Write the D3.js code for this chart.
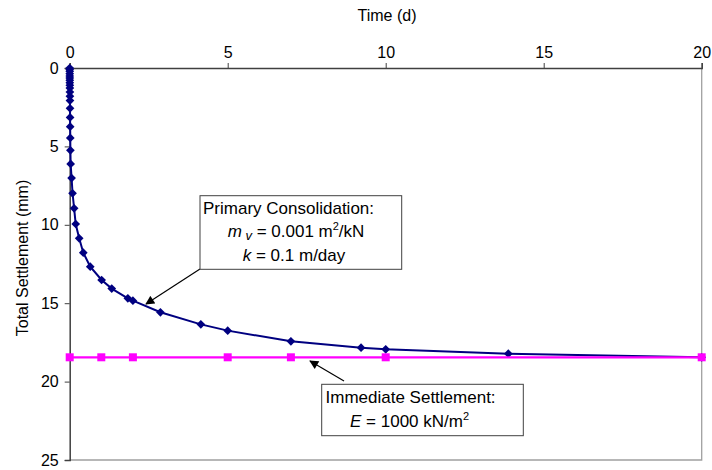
<html>
<head>
<meta charset="utf-8" />
<script src="https://d3js.org/d3.v7.min.js"></script>
<style>
  body { margin: 0; background: #fff; }
  text { font-family: "Liberation Sans", Arial, sans-serif; fill: #000; }
</style>
</head>
<body>
<svg id="chart" width="712" height="470"></svg>
<script>
// primary consolidation curve (time in days, settlement in mm)
let primaryTime = [0, 0.0003, 0.0006, 0.001, 0.0015, 0.002, 0.0025, 0.003, 0.004, 0.005,
  0.006, 0.007, 0.008, 0.01, 0.012, 0.015, 0.018, 0.022,
  0.03, 0.06, 0.09, 0.14, 0.19, 0.30, 0.43, 0.65, 1.01, 1.33, 1.84, 2.0,
  2.87, 4.15, 5.0, 7.0, 9.22, 10.0, 13.88, 20]
let primarySettlement = [0, 0.1, 0.21, 0.36, 0.51, 0.64, 0.78, 0.94, 1.10, 1.28,
  1.53, 1.80, 2.08, 2.57, 3.15, 3.74, 4.46, 5.25,
  6.12, 7.02, 7.99, 8.95, 9.95, 10.86, 11.78, 12.67, 13.52, 14.07, 14.69, 14.84,
  15.58, 16.35, 16.75, 17.43, 17.84, 17.94, 18.22, 18.45]
// immediate settlement
let immediateTime = [0, 1, 2, 5, 7, 10, 20]
let immediateSettlement = [18.45, 18.45, 18.45, 18.45, 18.45, 18.45, 18.45]

let xTicks = [0, 5, 10, 15, 20]
let yTicks = [0, 5, 10, 15, 20, 25]

let svg = d3.select("#chart")
let x = d3.scaleLinear().domain([0, 20]).range([69.7, 701.7])
let y = d3.scaleLinear().domain([0, 25]).range([68, 460])

// plot area border (right & bottom, light gray)
svg.append("path")
  .attr("d", `M${x(20)},${y(0)}V${y(25)}H${x(0)}`)
  .attr("fill", "none").attr("stroke", "#a0a0a0").attr("stroke-width", 1.3)

// top axis
let xAxis = svg.append("g").attr("transform", `translate(0,${y(0)})`)
  .call(d3.axisTop(x).tickValues(xTicks).tickSize(5).tickPadding(5).tickFormat(d3.format("d")))
xAxis.select(".domain").attr("stroke", "#404040").attr("stroke-width", 1.5)
xAxis.selectAll(".tick line").attr("stroke", "#404040").attr("stroke-width", 1)
xAxis.selectAll("text").attr("font-size", 16).attr("font-family", "Liberation Sans, Arial")

// left axis
let yAxis = svg.append("g").attr("transform", `translate(${x(0)},0)`)
  .call(d3.axisLeft(y).tickValues(yTicks).tickSize(5).tickPadding(6).tickFormat(d3.format("d")))
yAxis.select(".domain").attr("stroke", "#404040").attr("stroke-width", 1.5)
yAxis.selectAll(".tick line").attr("stroke", "#404040").attr("stroke-width", 1)
yAxis.selectAll("text").attr("font-size", 16).attr("font-family", "Liberation Sans, Arial")

// axis titles
svg.append("text").attr("x", 387).attr("y", 21).attr("text-anchor", "middle")
  .attr("font-size", 16).text("Time (d)")
svg.append("text").attr("transform", "translate(28,258) rotate(-90)")
  .attr("text-anchor", "middle").attr("font-size", 16).text("Total Settlement (mm)")

// primary consolidation series
let primary = primaryTime.map((t, i) => [t, primarySettlement[i]])
let line = d3.line().x(d => x(d[0])).y(d => y(d[1]))
svg.append("path").datum(primary).attr("d", line)
  .attr("fill", "none").attr("stroke", "#000080").attr("stroke-width", 2)
svg.append("g").selectAll("path").data(primary).enter().append("path")
  .attr("d", d3.symbol(d3.symbolSquare, 38))
  .attr("transform", d => `translate(${x(d[0])},${y(d[1])}) rotate(45)`)
  .attr("fill", "#000080")

// immediate settlement series
let immediate = immediateTime.map((t, i) => [t, immediateSettlement[i]])
svg.append("path").datum(immediate).attr("d", line)
  .attr("fill", "none").attr("stroke", "#ff00ff").attr("stroke-width", 2.2)
svg.append("g").selectAll("rect").data(immediate).enter().append("rect")
  .attr("x", d => x(d[0]) - 4).attr("y", d => y(d[1]) - 4)
  .attr("width", 8).attr("height", 8).attr("fill", "#ff00ff")

// arrowhead
svg.append("defs").append("marker")
  .attr("id", "arrow").attr("viewBox", "0 0 10 10").attr("refX", 9).attr("refY", 5)
  .attr("markerWidth", 10).attr("markerHeight", 9).attr("markerUnits", "userSpaceOnUse")
  .attr("orient", "auto")
  .append("path").attr("d", "M0,0L10,5L0,10z").attr("fill", "#000")

// annotation 1
svg.append("line").attr("x1", 200).attr("y1", 269).attr("x2", 146).attr("y2", 304)
  .attr("stroke", "#000").attr("stroke-width", 1.2).attr("marker-end", "url(#arrow)")
svg.append("rect").attr("x", 200).attr("y", 195.7).attr("width", 201.7).attr("height", 73.6)
  .attr("fill", "#fff").attr("stroke", "#404040").attr("stroke-width", 1)
svg.append("text").attr("x", 203).attr("y", 213.5).attr("font-size", 17).text("Primary Consolidation:")
let t2 = svg.append("text").attr("x", 296).attr("y", 237).attr("font-size", 17).attr("text-anchor", "middle")
t2.append("tspan").attr("font-style", "italic").text("m")
t2.append("tspan").attr("font-style", "italic").attr("font-size", 13).attr("dy", 3).text(" v")
t2.append("tspan").attr("dy", -3).text(" = 0.001 m")
t2.append("tspan").attr("font-size", 11).attr("dy", -7).text("2")
t2.append("tspan").attr("dy", 7).text("/kN")
let t3 = svg.append("text").attr("x", 294).attr("y", 261).attr("font-size", 17).attr("text-anchor", "middle")
t3.append("tspan").attr("font-style", "italic").text("k")
t3.append("tspan").text(" = 0.1 m/day")

// annotation 2
svg.append("line").attr("x1", 344).attr("y1", 381).attr("x2", 310).attr("y2", 361)
  .attr("stroke", "#000").attr("stroke-width", 1.2).attr("marker-end", "url(#arrow)")
svg.append("rect").attr("x", 321.7).attr("y", 384.3).attr("width", 201.6).attr("height", 51.4)
  .attr("fill", "#fff").attr("stroke", "#404040").attr("stroke-width", 1)
svg.append("text").attr("x", 325.5).attr("y", 403).attr("font-size", 17).text("Immediate Settlement:")
let t4 = svg.append("text").attr("x", 350).attr("y", 427).attr("font-size", 17)
t4.append("tspan").attr("font-style", "italic").text("E")
t4.append("tspan").text(" = 1000 kN/m")
t4.append("tspan").attr("font-size", 11).attr("dy", -7).text("2")
</script>
</body>
</html>
